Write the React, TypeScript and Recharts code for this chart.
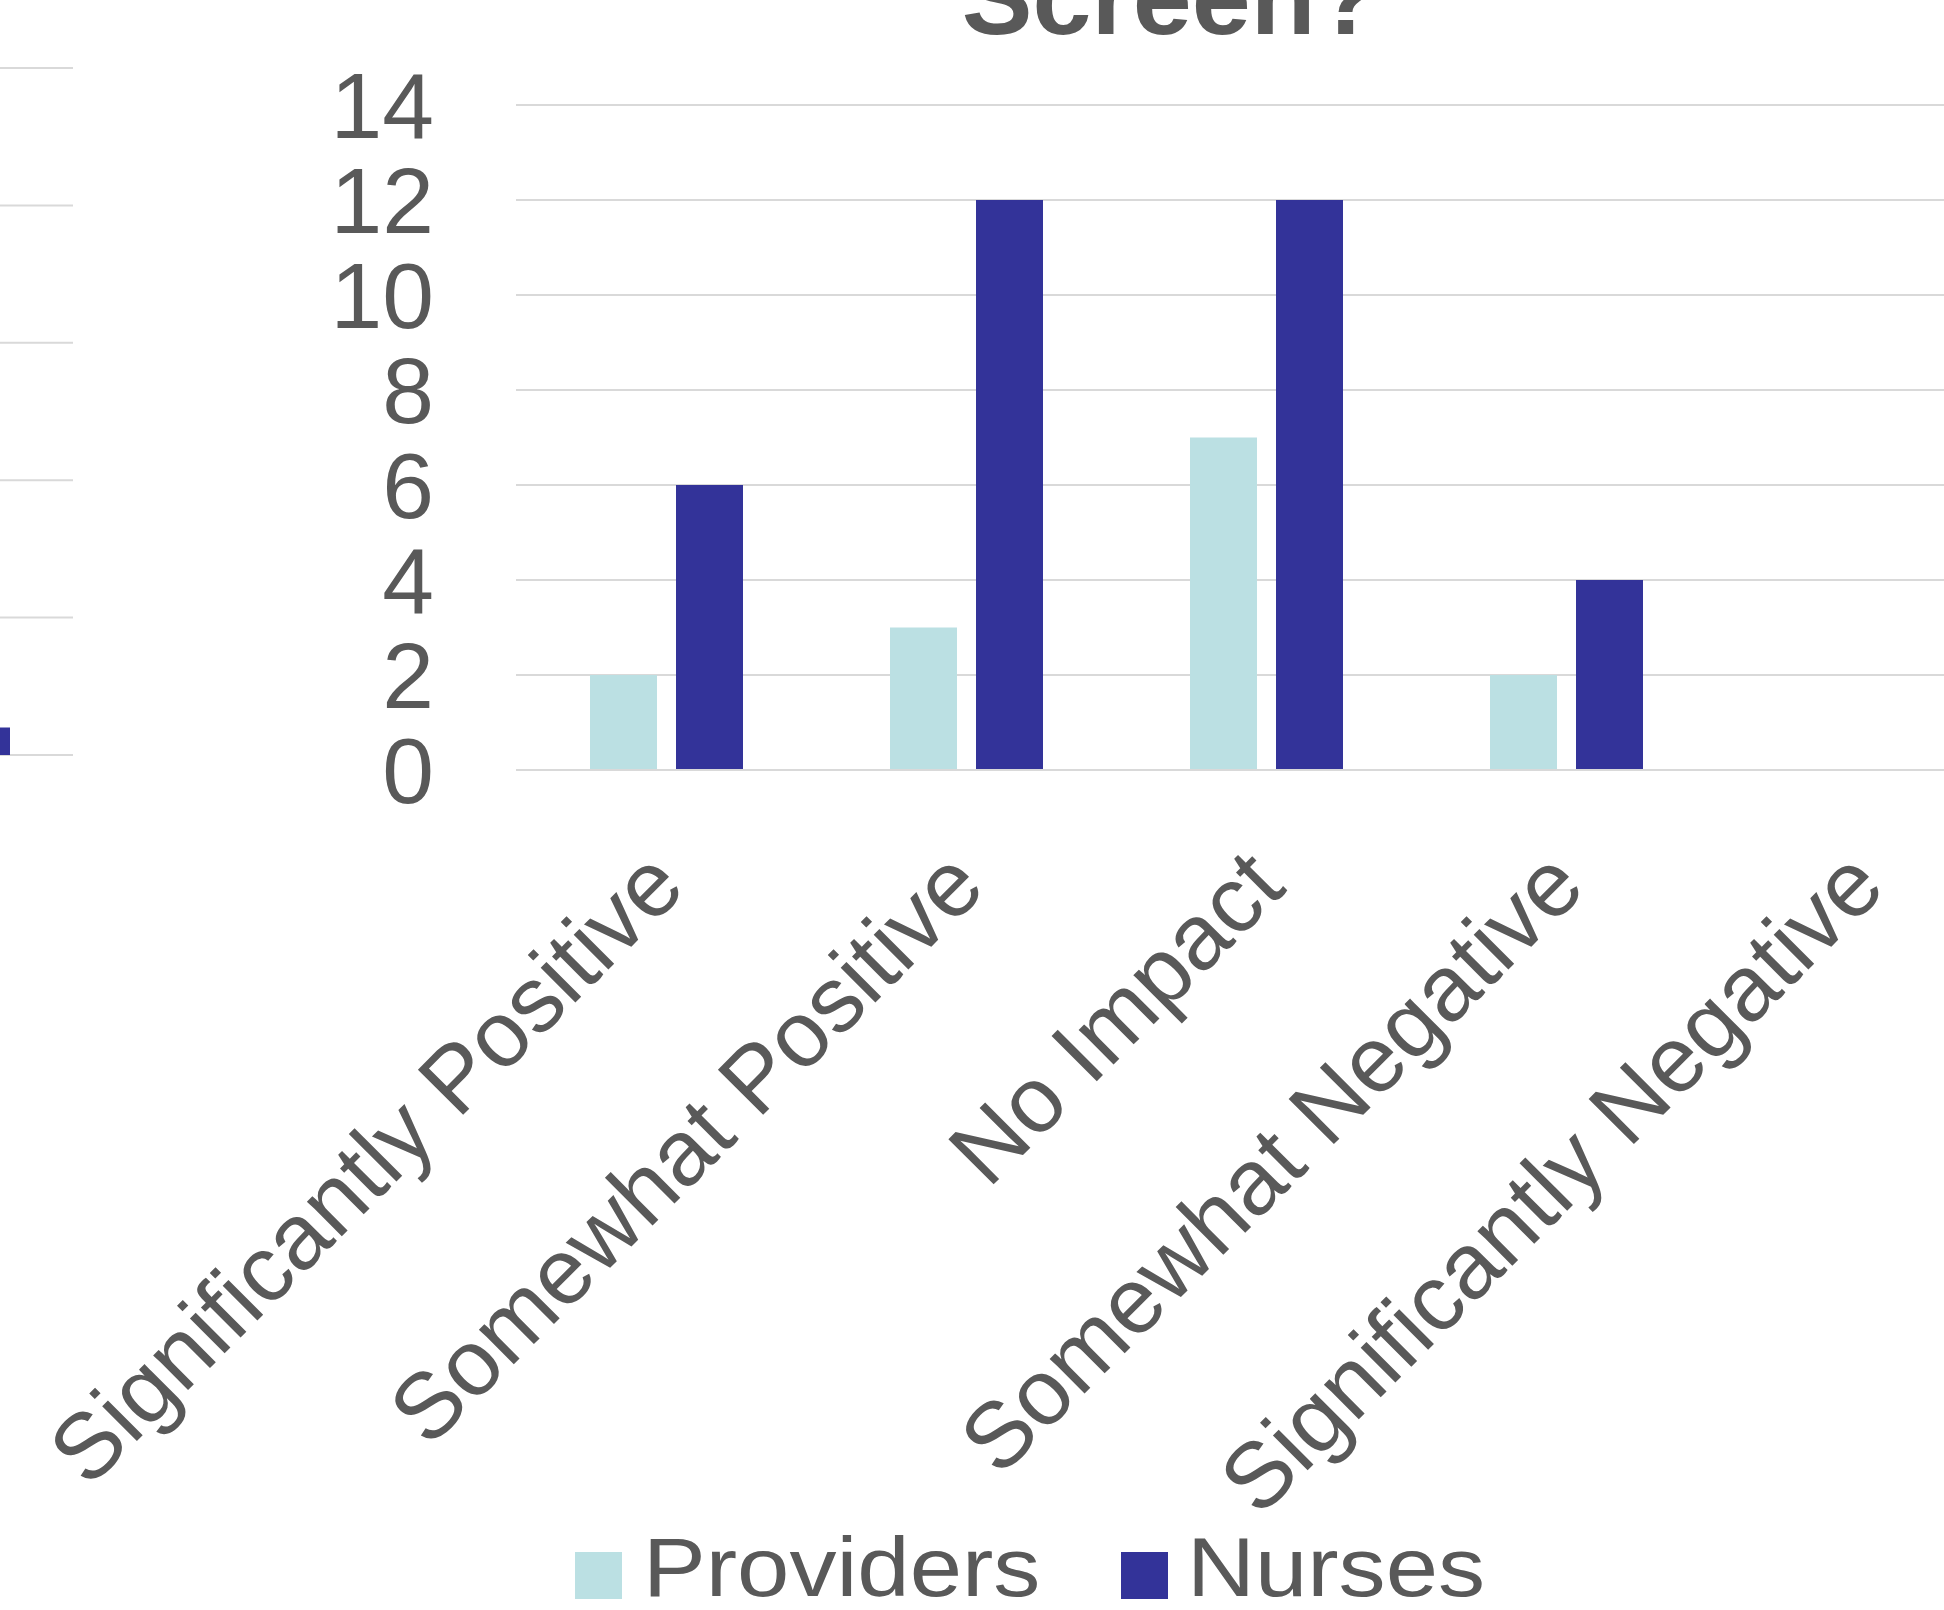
import React from 'react';
import { BarChart, Bar, XAxis, YAxis, CartesianGrid, Legend } from 'recharts';

const categories = [
  'Significantly Positive',
  'Somewhat Positive',
  'No Impact',
  'Somewhat Negative',
  'Significantly Negative',
];
const providers = [2, 3, 7, 2, 0];
const nurses = [6, 12, 12, 4, 0];
const yTicks = [0, 2, 4, 6, 8, 10, 12, 14];

// the neighbouring chart is cut off at the left edge, only its last bar shows
const leftCategories = ['Significantly Negative'];
const leftProviders = [0];
const leftNurses = [1];
const leftTicks = [0, 5, 10, 15, 20, 25];

const PROVIDERS = '#BBE0E3';
const NURSES = '#333399';
const GRID = '#d9d9d9';
const TEXT = '#595959';
const FONT = '"Liberation Sans", Arial, sans-serif';

const data = categories.map((name, i) => ({ name, providers: providers[i], nurses: nurses[i] }));
const leftData = leftCategories.map((name, i) => ({ name, providers: leftProviders[i], nurses: leftNurses[i] }));

const AngledTick = ({ x, y, payload }: any) => {
  const tx = x + 22;
  const ty = y + 120;
  return (
    <text
      x={tx}
      y={ty}
      textAnchor="end"
      transform={`rotate(-45, ${tx}, ${ty})`}
      fill={TEXT}
      fontSize={93}
      fontFamily={FONT}
    >
      {payload.value}
    </text>
  );
};

const legendItems = [
  { label: 'Providers', color: PROVIDERS, box: 575, text: 643 },
  { label: 'Nurses', color: NURSES, box: 1121, text: 1187 },
];

const ChartLegend = () => (
  <div style={{ position: 'relative', height: 70, width: 1944 }}>
    {legendItems.map((item) => (
      <React.Fragment key={item.label}>
        <div
          style={{
            position: 'absolute',
            left: item.box,
            top: 42,
            width: 47,
            height: 47,
            background: item.color,
          }}
        />
        <span
          style={{
            position: 'absolute',
            left: item.text,
            top: 15,
            fontSize: 84,
            lineHeight: 1,
            fontFamily: FONT,
            color: TEXT,
            whiteSpace: 'nowrap',
            transform: 'scaleX(1.12)',
            transformOrigin: 'left center',
          }}
        >
          {item.label}
        </span>
      </React.Fragment>
    ))}
  </div>
);

export default function App() {
  return (
    <div
      style={{
        position: 'absolute',
        left: 0,
        top: 0,
        width: 1944,
        height: 1610,
        overflow: 'hidden',
        background: '#fff',
      }}
    >
      {/* sliver of the previous chart */}
      <div style={{ position: 'absolute', left: -207, top: 0 }}>
        <BarChart
          width={280}
          height={1610}
          data={leftData}
          margin={{ top: 68, right: 0, left: 0, bottom: 855 }}
          barSize={67}
          barGap={19}
        >
          <CartesianGrid vertical={false} stroke={GRID} strokeWidth={2} />
          <XAxis dataKey="name" hide />
          <YAxis hide domain={[0, 25]} ticks={leftTicks} interval={0} />
          <Bar dataKey="providers" fill={PROVIDERS} isAnimationActive={false} />
          <Bar dataKey="nurses" fill={NURSES} isAnimationActive={false} />
        </BarChart>
      </div>

      <div
        style={{
          position: 'absolute',
          left: 1171 - 400,
          top: -56,
          width: 800,
          textAlign: 'center',
          fontFamily: FONT,
          fontWeight: 'bold',
          fontSize: 106,
          lineHeight: 1,
          color: TEXT,
        }}
      >
        Screen?
      </div>

      <div style={{ position: 'absolute', left: 0, top: 0 }}>
        <BarChart
          width={2016}
          height={1610}
          data={data}
          margin={{ top: 105, right: 0, left: 0, bottom: 30 }}
          barSize={67}
          barGap={19}
        >
          <CartesianGrid vertical={false} stroke={GRID} strokeWidth={2} />
          <XAxis
            dataKey="name"
            interval={0}
            height={740}
            tickLine={false}
            tickSize={0}
            tickMargin={0}
            axisLine={{ stroke: GRID, strokeWidth: 2 }}
            tick={<AngledTick />}
          />
          <YAxis
            width={516}
            domain={[0, 14]}
            ticks={yTicks}
            interval={0}
            axisLine={false}
            tickLine={false}
            tickSize={0}
            tickMargin={82}
            tick={{ fill: TEXT, fontSize: 93, fontFamily: FONT }}
          />
          <Legend
            verticalAlign="bottom"
            content={<ChartLegend />}
            wrapperStyle={{ left: 0, width: 1944, bottom: 30 }}
          />
          <Bar dataKey="providers" name="Providers" fill={PROVIDERS} isAnimationActive={false} />
          <Bar dataKey="nurses" name="Nurses" fill={NURSES} isAnimationActive={false} />
        </BarChart>
      </div>
    </div>
  );
}
